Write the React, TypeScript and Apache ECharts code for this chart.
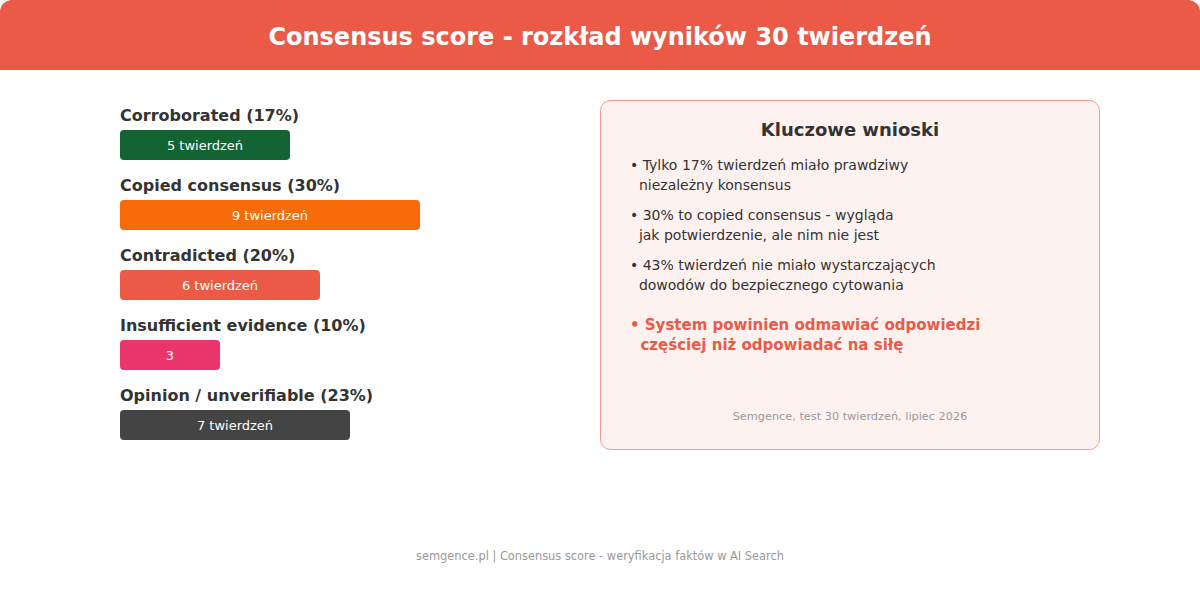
import React, { useEffect, useRef } from "react";
import * as echarts from "echarts";

const FONT = "DejaVu Sans";

const categories = [
    "Corroborated (17%)",
    "Copied consensus (30%)",
    "Contradicted (20%)",
    "Insufficient evidence (10%)",
    "Opinion / unverifiable (23%)",
];
const percents = [17, 30, 20, 10, 23];
const barLabels = ["5 twierdzeń", "9 twierdzeń", "6 twierdzeń", "3", "7 twierdzeń"];
const barColors = ["#146332", "#f76b0b", "#eb5a47", "#e9356a", "#444444"];

const bullets = [
    ["• Tylko 17% twierdzeń miało prawdziwy", "  niezależny konsensus"],
    ["• 30% to copied consensus - wygląda", "  jak potwierdzenie, ale nim nie jest"],
    ["• 43% twierdzeń nie miało wystarczających", "  dowodów do bezpiecznego cytowania"],
];
const highlight = ["• System powinien odmawiać odpowiedzi", "  częściej niż odpowiadać na siłę"];

const App: React.FC = () => {
    const ref = useRef<HTMLDivElement | null>(null);

    useEffect(() => {
        if (!ref.current) return;
        document.body.style.margin = "0";
        const chart = echarts.init(ref.current, undefined, { renderer: "svg" });

        const bulletTexts: any[] = [];
        bullets.forEach((lines, i) => {
            lines.forEach((line, j) => {
                bulletTexts.push({
                    type: "text",
                    x: 630,
                    y: 165 + i * 50 + j * 20,
                    style: { text: line, font: `14px '${FONT}'`, fill: "#333333", verticalAlign: "middle" },
                });
            });
        });
        highlight.forEach((line, j) => {
            bulletTexts.push({
                type: "text",
                x: 630,
                y: 325 + j * 20,
                style: { text: line, font: `bold 15px '${FONT}'`, fill: "#eb5a47", verticalAlign: "middle" },
            });
        });

        chart.setOption({
            animation: false,
            textStyle: { fontFamily: FONT },
            grid: { left: 120, top: 110, width: 300, height: 350 },
            xAxis: { type: "value", min: 0, max: 30, show: false },
            yAxis: { type: "category", data: categories, inverse: true, show: false },
            graphic: [
                {
                    type: "rect",
                    shape: { x: 0, y: 0, width: 1200, height: 70, r: [12, 12, 0, 0] },
                    style: { fill: "#eb5a47" },
                    z: -1,
                },
                {
                    type: "text",
                    x: 600,
                    y: 37,
                    style: {
                        text: "Consensus score - rozkład wyników 30 twierdzeń",
                        font: `bold 24px '${FONT}'`,
                        fill: "#ffffff",
                        align: "center",
                        verticalAlign: "middle",
                    },
                },
                {
                    type: "rect",
                    shape: { x: 600.5, y: 100.5, width: 499, height: 349, r: 10 },
                    style: { fill: "#fef2f1", stroke: "#f39b8f", lineWidth: 1 },
                },
                {
                    type: "text",
                    x: 850,
                    y: 129,
                    style: {
                        text: "Kluczowe wnioski",
                        font: `bold 18px '${FONT}'`,
                        fill: "#333333",
                        align: "center",
                        verticalAlign: "middle",
                    },
                },
                ...bulletTexts,
                {
                    type: "text",
                    x: 850,
                    y: 416,
                    style: {
                        text: "Semgence, test 30 twierdzeń, lipiec 2026",
                        font: `11.3px '${FONT}'`,
                        fill: "#999999",
                        align: "center",
                        verticalAlign: "middle",
                    },
                },
                {
                    type: "text",
                    x: 600,
                    y: 556,
                    style: {
                        text: "semgence.pl | Consensus score - weryfikacja faktów w AI Search",
                        font: `11.4px '${FONT}'`,
                        fill: "#999999",
                        align: "center",
                        verticalAlign: "middle",
                    },
                },
            ],
            series: [
                {
                    type: "bar",
                    barWidth: 30,
                    data: percents.map((v, i) => ({
                        value: v,
                        itemStyle: { color: barColors[i], borderRadius: 4 },
                    })),
                    label: {
                        show: true,
                        position: "inside",
                        formatter: (p: any) => barLabels[p.dataIndex],
                        color: "#ffffff",
                        fontSize: 13,
                        fontFamily: FONT,
                    },
                },
                {
                    type: "bar",
                    barWidth: 30,
                    barGap: "-100%",
                    silent: true,
                    data: percents,
                    itemStyle: { color: "transparent" },
                    label: {
                        show: true,
                        position: [0, -15],
                        align: "left",
                        verticalAlign: "middle",
                        formatter: (p: any) => categories[p.dataIndex],
                        color: "#333333",
                        fontSize: 16,
                        fontWeight: "bold",
                        fontFamily: FONT,
                    },
                },
            ],
        });

        return () => chart.dispose();
    }, []);

    return <div ref={ref} style={{ width: 1200, height: 600 }} />;
};

export default App;
